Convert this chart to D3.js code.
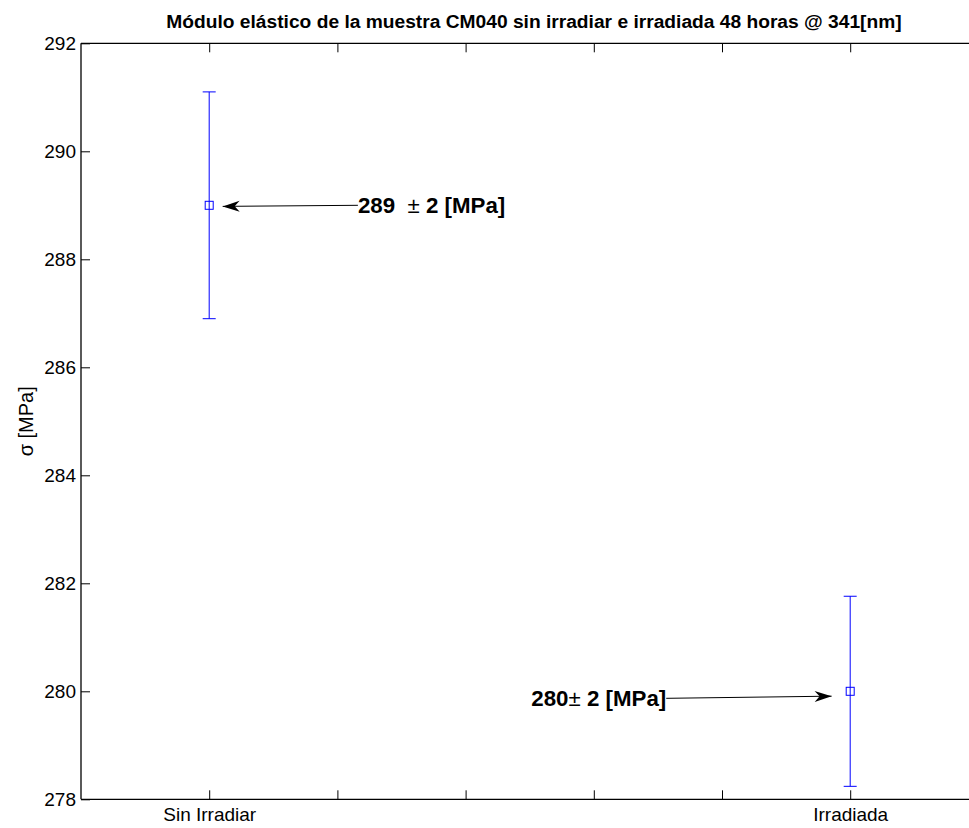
<!DOCTYPE html>
<html>
<head>
<meta charset="utf-8">
<script src="https://cdn.jsdelivr.net/npm/d3@7"></script>
<style>
  html, body { margin: 0; padding: 0; background: #fff; overflow: hidden; }
  svg { display: block; overflow: hidden; font-family: "Liberation Sans", Arial, Helvetica, sans-serif; }
</style>
</head>
<body>
<svg id="chart" width="969" height="828"></svg>
<script>
// Samples: position on the x axis, mean modulus and half-width of its error bar (MPa)
const categories = ["Sin Irradiar", "Irradiada"];
const xPositions = [1, 2];
const means = [289, 280];
const errors = [2.1, 1.76];

// Axis ticks
const xTicks = [1, 1.2, 1.4, 1.6, 1.8, 2];
const yTicks = [278, 280, 282, 284, 286, 288, 290, 292];

// Annotations: label text, arrow tail and arrow tip in data units
const noteTexts = [["289", "  \u00b1", " 2 [MPa]"], ["280", "\u00b1", " 2 [MPa]"]];
const noteTails = [[1.232, 289], [1.713, 279.87]];
const noteTips = [[1.021, 288.98], [1.971, 279.91]];

const svg = d3.select("#chart");
const margin = { left: 81, top: 43.3, right: 987, bottom: 799.3 };

const x = d3.scaleLinear().domain([0.8, 0.8 + (margin.right - margin.left) / 641]).range([margin.left, margin.right]);
const y = d3.scaleLinear().domain([278, 292]).range([margin.bottom, margin.top]);

// Title
svg.append("text")
  .attr("x", (margin.left + margin.right) / 2)
  .attr("y", 28)
  .attr("text-anchor", "middle")
  .attr("font-weight", "bold")
  .attr("font-size", "19.2px")
  .text("Módulo elástico de la muestra CM040 sin irradiar e irradiada 48 horas @ 341[nm]");

// Axes with inward ticks (the right side of the box lies past the page edge)
const tickLen = 9;
const xLabel = d => {
  const i = xPositions.indexOf(d);
  return i >= 0 ? categories[i] : "";
};
const bottomAxis = svg.append("g")
  .attr("transform", `translate(0,${margin.bottom})`)
  .call(d3.axisBottom(x).tickValues(xTicks).tickSize(-tickLen).tickPadding(8).tickFormat(xLabel));
const topAxis = svg.append("g")
  .attr("transform", `translate(0,${margin.top})`)
  .call(d3.axisTop(x).tickValues(xTicks).tickSize(-tickLen).tickFormat(""));
const leftAxis = svg.append("g")
  .attr("transform", `translate(${margin.left},0)`)
  .call(d3.axisLeft(y).tickValues(yTicks).tickSize(-tickLen).tickPadding(5).tickFormat(d3.format("d")));

[bottomAxis, topAxis, leftAxis].forEach(g => {
  g.select(".domain").attr("stroke", "#000").attr("stroke-width", 1.3);
  g.selectAll(".tick line").attr("stroke", "#000").attr("stroke-width", 1);
  g.selectAll(".tick text").attr("fill", "#000").attr("font-size", "19px").attr("font-family", "Liberation Sans, Arial, sans-serif");
});
// plain axis lines without the outer end ticks
bottomAxis.select(".domain").attr("d", `M${margin.left},0H${margin.right}`);
topAxis.select(".domain").attr("d", `M${margin.left},0H${margin.right}`);
leftAxis.select(".domain").attr("d", `M0,${margin.top}V${margin.bottom}`);

// Y axis label
svg.append("text")
  .attr("transform", `translate(33,${(margin.top + margin.bottom) / 2}) rotate(-90)`)
  .attr("text-anchor", "middle")
  .attr("font-size", "20px")
  .text("\u03c3 [MPa]");

// Error bars with caps and square markers
const capHalf = 6.5;
const blue = "#0000ff";
const bars = svg.append("g").selectAll("g").data(means).join("g");
bars.append("line")
  .attr("x1", (d, i) => x(xPositions[i])).attr("x2", (d, i) => x(xPositions[i]))
  .attr("y1", (d, i) => y(d - errors[i])).attr("y2", (d, i) => y(d + errors[i]))
  .attr("stroke", blue).attr("stroke-width", 1);
bars.append("line")
  .attr("x1", (d, i) => x(xPositions[i]) - capHalf).attr("x2", (d, i) => x(xPositions[i]) + capHalf)
  .attr("y1", (d, i) => y(d + errors[i])).attr("y2", (d, i) => y(d + errors[i]))
  .attr("stroke", blue).attr("stroke-width", 1);
bars.append("line")
  .attr("x1", (d, i) => x(xPositions[i]) - capHalf).attr("x2", (d, i) => x(xPositions[i]) + capHalf)
  .attr("y1", (d, i) => y(d - errors[i])).attr("y2", (d, i) => y(d - errors[i]))
  .attr("stroke", blue).attr("stroke-width", 1);
const sq = 8;
bars.append("rect")
  .attr("x", (d, i) => x(xPositions[i]) - sq / 2)
  .attr("y", d => y(d) - sq / 2)
  .attr("width", sq).attr("height", sq)
  .attr("fill", "none").attr("stroke", blue).attr("stroke-width", 1);

// Annotation arrows with their value labels
function arrowHead(tip, tail) {
  const [tx, ty] = tip, [sx, sy] = tail;
  const ang = Math.atan2(ty - sy, tx - sx);
  const L = 17, W = 5.5, back = 12;
  const pt = (a, b) => [tx - a * Math.cos(ang) + b * Math.sin(ang), ty - a * Math.sin(ang) - b * Math.cos(ang)];
  const p1 = pt(L, W), p2 = pt(back, 0), p3 = pt(L, -W);
  return `M${tx},${ty}L${p1}L${p2}L${p3}Z`;
}
const notes = svg.append("g");
noteTexts.forEach((parts, i) => {
  const tail = [x(noteTails[i][0]), y(noteTails[i][1])];
  const tip = [x(noteTips[i][0]), y(noteTips[i][1])];
  notes.append("line")
    .attr("x1", tail[0]).attr("y1", tail[1]).attr("x2", tip[0]).attr("y2", tip[1])
    .attr("stroke", "#000").attr("stroke-width", 1);
  notes.append("path").attr("d", arrowHead(tip, tail)).attr("fill", "#000");
  const t = notes.append("text")
    .attr("x", tail[0])
    .attr("y", tail[1] + 8)
    .attr("text-anchor", i === 0 ? "start" : "end")
    .attr("font-size", "22.3px")
    .attr("font-weight", "bold")
    .attr("xml:space", "preserve")
    .style("white-space", "pre");
  t.append("tspan").text(parts[0]);
  t.append("tspan").attr("font-weight", "normal").text(parts[1]);
  t.append("tspan").text(parts[2]);
});
</script>
</body>
</html>
